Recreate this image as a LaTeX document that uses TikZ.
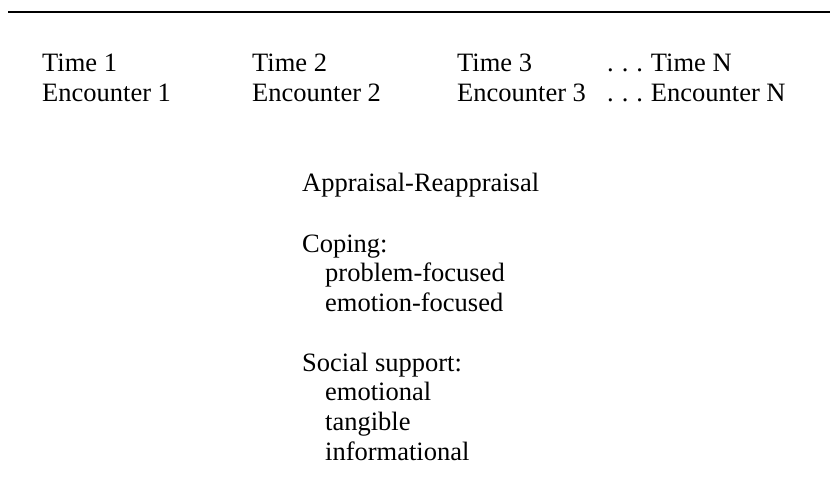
\documentclass[tikz,border=0pt]{standalone}
\usepackage{fontspec}
\setmainfont{Liberation Serif}
\usepackage{tikz}
\usetikzlibrary{positioning}
\newcommand{\lead}{.\hspace{0.3em}.\hspace{0.3em}.\hspace{0.3em}}
\tikzset{
  lab/.style={anchor=base west, inner sep=0pt, text=black, font=\fontsize{26.5}{30}\selectfont},
  toprule/.style={draw=black, line width=2pt},
}

\begin{document}
\begin{tikzpicture}[x=1pt,y=1pt]
  \useasboundingbox (0,0) rectangle (839,488);
  \coordinate (RL) at (8,476);
  \coordinate (RR) at (830,476);
  \draw[toprule] (RL) -- (RR);

  % time / encounter columns
  \node[lab] (time1) at (42,416) {Time 1};
  \node[lab] (enc1) at (42,386) {Encounter 1};
  \node[lab] (time2) at (252,416) {Time 2};
  \node[lab] (enc2) at (252,386) {Encounter 2};
  \node[lab] (time3) at (457,416) {Time 3};
  \node[lab] (enc3) at (457,386) {Encounter 3};
  \node[lab] (timeN) at (607,416) {\lead Time N};
  \node[lab] (encN) at (607,386) {\lead Encounter N};

  % processes
  \node[lab] (appr) at (302,296) {Appraisal-Reappraisal};
  \node[lab] (cop) at (302,235) {Coping:};
  \node[lab] (prob) at (325,206) {problem-focused};
  \node[lab] (emof) at (325,176) {emotion-focused};
  \node[lab] (soc) at (302,116) {Social support:};
  \node[lab] (emot) at (325,87) {emotional};
  \node[lab] (tang) at (325,57) {tangible};
  \node[lab] (info) at (325,28) {informational};
\end{tikzpicture}
\end{document}
